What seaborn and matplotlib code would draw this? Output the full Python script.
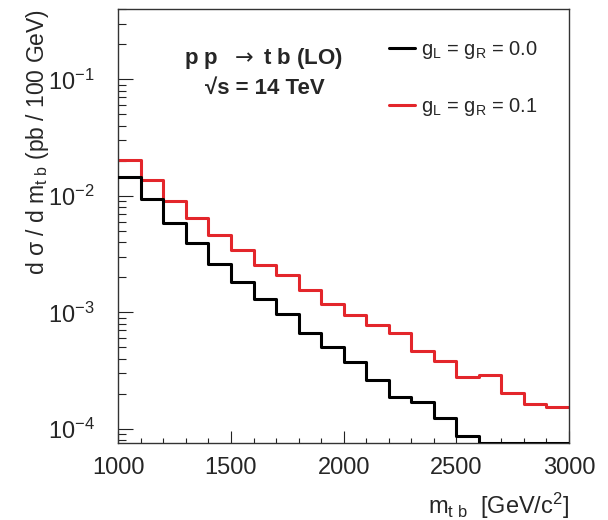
import numpy as np
import pandas as pd
import matplotlib
matplotlib.use("Agg")
import matplotlib.pyplot as plt
import seaborn as sns
from matplotlib.ticker import MultipleLocator, LogLocator, NullFormatter

# ---- data ----
bin_edges = [1000, 1100, 1200, 1300, 1400, 1500, 1600, 1700, 1800, 1900, 2000,
             2100, 2200, 2300, 2400, 2500, 2600, 2700, 2800, 2900, 3000]
xsec_g00 = [1.44e-2, 9.4e-3, 5.9e-3, 3.92e-3, 2.59e-3, 1.83e-3, 1.30e-3, 9.6e-4,
            6.7e-4, 5.0e-4, 3.74e-4, 2.63e-4, 1.87e-4, 1.69e-4, 1.24e-4, 8.7e-5,
            7.0e-5, 6.5e-5, 6.0e-5, 5.5e-5]
xsec_g01 = [2.05e-2, 1.36e-2, 9.0e-3, 6.4e-3, 4.6e-3, 3.44e-3, 2.54e-3, 2.08e-3,
            1.55e-3, 1.17e-3, 9.4e-4, 7.8e-4, 6.6e-4, 4.7e-4, 3.84e-4, 2.81e-4,
            2.9e-4, 2.05e-4, 1.63e-4, 1.54e-4]
labels = [r"g$_{\mathregular{L}}$ = g$_{\mathregular{R}}$ = 0.0",
          r"g$_{\mathregular{L}}$ = g$_{\mathregular{R}}$ = 0.1"]
colors = ["#000000", "#e3262b"]
y_range = (7.6e-5, 0.4)
x_range = (1000, 3000)

sns.set_theme(style="white")
plt.rcParams["font.family"] = ["Liberation Sans", "DejaVu Sans"]
plt.rcParams["mathtext.fontset"] = "custom"
plt.rcParams["mathtext.rm"] = "Liberation Sans"
plt.rcParams["mathtext.it"] = "Liberation Sans:italic"
plt.rcParams["mathtext.bf"] = "Liberation Sans:bold"

fig = plt.figure(figsize=(6.08, 5.2), dpi=100)
ax = fig.add_axes([118.3 / 608, 1 - 442.7 / 520, 450.7 / 608, 433.4 / 520])

edges = np.array(bin_edges, dtype=float)
for vals, lab, col, z in [(xsec_g00, labels[0], colors[0], 3),
                          (xsec_g01, labels[1], colors[1], 2)]:
    v = np.maximum(np.array(vals), y_range[0])  # ROOT draws underflow at frame bottom
    df = pd.DataFrame({"mtb": edges, "xsec": np.append(v, v[-1])})
    sns.lineplot(data=df, x="mtb", y="xsec", ax=ax, color=col, linewidth=2.2,
                 drawstyle="steps-post", estimator=None, label=lab, zorder=z)

ax.set_yscale("log")
ax.set_xlim(*x_range)
ax.set_ylim(*y_range)

ax.xaxis.set_major_locator(MultipleLocator(500))
ax.xaxis.set_minor_locator(MultipleLocator(100))
ax.yaxis.set_major_locator(LogLocator(base=10))
ax.yaxis.set_minor_locator(LogLocator(base=10, subs=np.arange(2, 10)))
ax.yaxis.set_minor_formatter(NullFormatter())

ax.tick_params(axis="both", which="both", direction="in", color="#222222",
               width=0.8, top=False, right=False, bottom=True, left=True)
ax.tick_params(axis="y", which="major", length=10.8, pad=17, labelsize=17)
ax.tick_params(axis="y", which="minor", length=5.5)
ax.tick_params(axis="x", which="major", length=8.4, pad=10, labelsize=17)
ax.tick_params(axis="x", which="minor", length=3.8)

for s in ax.spines.values():
    s.set_color("#333333")
    s.set_linewidth(1.0)

ax.set_ylabel(r"d σ / d m$_{\mathregular{t\ b}}$ (pb / 100 GeV)", fontsize=16.5, loc="top")
ax.yaxis.set_label_coords(-0.15, 1.0)
ax.set_xlabel(r"m$_{\mathregular{t\ b}}$  [GeV/c$^{\mathregular{2}}$]", fontsize=17, loc="right")
ax.xaxis.set_label_coords(1.0, -0.11)

ax.text(0.323, 0.8865, r"p p  $\rightarrow$ t b (LO)", transform=ax.transAxes, ha="center",
        va="center", fontsize=16, fontweight="bold", math_fontfamily="dejavusans")
ax.text(0.326, 0.8184, "√s = 14 TeV", transform=ax.transAxes, ha="center",
        va="center", fontsize=16, fontweight="bold")

leg = ax.legend(loc="upper left", bbox_to_anchor=((387 - 118.3) / 450.7 - 0.01, 0.945),
                frameon=False, fontsize=14.5, handlelength=1.29, handletextpad=0.3,
                labelspacing=1.75, borderaxespad=0, borderpad=0.3)
for h in leg.get_lines():
    h.set_linewidth(2.2)

fig.savefig("out.png", dpi=100)
